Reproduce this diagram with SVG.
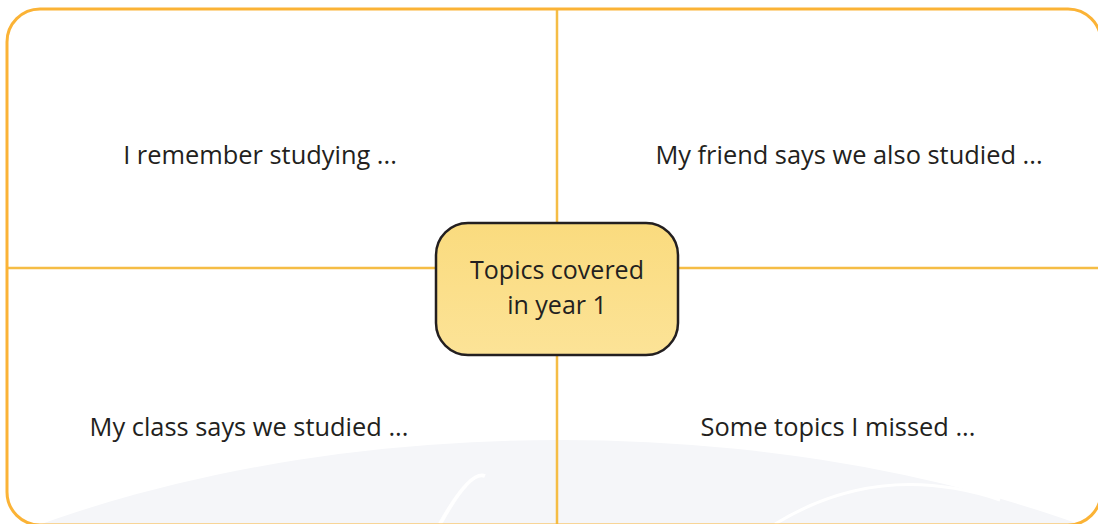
<svg xmlns="http://www.w3.org/2000/svg" width="1098" height="524" viewBox="0 0 1098 524">
  <style>
    .label { font-family: "Open Sans", "Liberation Sans", sans-serif; font-size: 25.4px; fill: #231F20; text-anchor: middle; }
    .hub { font-family: "Open Sans", "Liberation Sans", sans-serif; font-size: 25px; fill: #231F20; text-anchor: middle; }
    .frame { fill: none; stroke: #FBB336; stroke-width: 3; }
    .divider { stroke: #F5BD45; stroke-width: 2.5; fill: none; }
  </style>
  <defs>
    <linearGradient id="hubFill" x1="0" y1="0" x2="0" y2="1">
      <stop offset="0" stop-color="#FADB7E"/>
      <stop offset="1" stop-color="#FCE397"/>
    </linearGradient>
    <clipPath id="frameClip">
      <rect x="7" y="9" width="1094" height="516" rx="33"/>
    </clipPath>
  </defs>

  <rect width="1098" height="524" fill="#FFFFFF"/>

  <!-- faint background emblem -->
  <g clip-path="url(#frameClip)">
    <ellipse cx="560" cy="900" rx="900" ry="460" fill="#F5F6F9"/>
    <path d="M 775 524 Q 880 460 1000 500" fill="none" stroke="#FFFFFF" stroke-width="3"/>
    <path d="M 440 524 Q 470 470 485 476" fill="none" stroke="#FFFFFF" stroke-width="4"/>
  </g>

  <!-- quadrant dividers -->
  <g id="connectors">
    <line class="divider" x1="7" y1="268" x2="1101" y2="268"/>
    <line class="divider" x1="557" y1="9" x2="557" y2="525"/>
  </g>

  <g id="frame">
    <rect class="frame" x="7" y="9" width="1094" height="516" rx="33"/>
  </g>

  <g id="q-top-left">
    <text class="label" x="260" y="164">I remember studying ...</text>
  </g>
  <g id="q-top-right">
    <text class="label" x="849" y="164">My friend says we also studied ...</text>
  </g>
  <g id="q-bottom-left">
    <text class="label" x="249" y="436">My class says we studied ...</text>
  </g>
  <g id="q-bottom-right">
    <text class="label" x="838" y="436">Some topics I missed ...</text>
  </g>

  <g id="hub">
    <rect x="436" y="223" width="242" height="132" rx="32" fill="url(#hubFill)" stroke="#231F20" stroke-width="2.5"/>
    <text class="hub" x="557" y="279">Topics covered</text>
    <text class="hub" x="557" y="314">in year 1</text>
  </g>
</svg>
